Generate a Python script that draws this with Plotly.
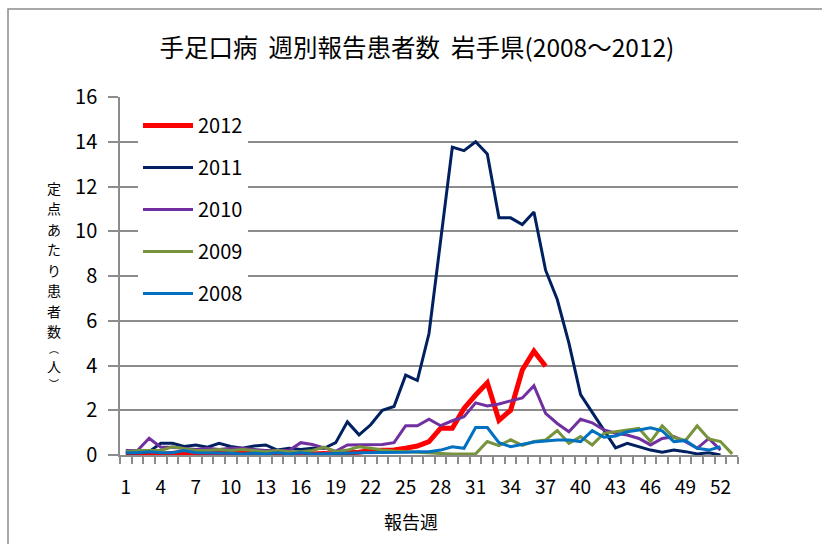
import plotly.graph_objects as go

weeks = list(range(1, 54))
tick_weeks = list(range(1, 53, 3))

y2012 = [0.02, 0.0, 0.0, 0.02, 0.05, 0.12, 0.05, 0.05, 0.08, 0.12, 0.1, 0.05, 0.05, 0.05, 0.07,
         0.05, 0.05, 0.07, 0.05, 0.1, 0.12, 0.2, 0.22, 0.22, 0.3, 0.4, 0.6, 1.2, 1.2, 2.08, 2.68,
         3.23, 1.55, 2.0, 3.8, 4.64, 3.97]
y2011 = [0.1, 0.1, 0.15, 0.52, 0.52, 0.38, 0.45, 0.35, 0.52, 0.38, 0.3, 0.4, 0.45, 0.22, 0.3,
         0.25, 0.3, 0.3, 0.55, 1.48, 0.9, 1.35, 2.0, 2.17, 3.57, 3.33, 5.43, 9.6, 13.76, 13.6,
         14.0, 13.45, 10.6, 10.6, 10.3, 10.86, 8.26, 6.95, 5.0, 2.7, 1.9, 1.1, 0.32, 0.52, 0.37,
         0.22, 0.12, 0.22, 0.15, 0.05, 0.1, 0.0]
y2010 = [0.2, 0.2, 0.75, 0.35, 0.35, 0.3, 0.25, 0.3, 0.25, 0.3, 0.3, 0.25, 0.2, 0.2, 0.2,
         0.55, 0.47, 0.32, 0.17, 0.45, 0.45, 0.45, 0.47, 0.55, 1.31, 1.31, 1.6, 1.31, 1.53, 1.71,
         2.33, 2.19, 2.28, 2.42, 2.55, 3.1, 1.86, 1.41, 1.04, 1.6, 1.44, 1.12, 0.97, 0.89, 0.74,
         0.45, 0.74, 0.82, 0.6, 0.3, 0.74, 0.22]
y2009 = [0.15, 0.2, 0.2, 0.2, 0.37, 0.3, 0.2, 0.2, 0.25, 0.2, 0.25, 0.2, 0.15, 0.2, 0.15,
         0.15, 0.2, 0.35, 0.15, 0.22, 0.37, 0.3, 0.22, 0.18, 0.15, 0.1, 0.08, 0.07, 0.05, 0.05,
         0.05, 0.6, 0.42, 0.68, 0.43, 0.6, 0.67, 1.09, 0.52, 0.82, 0.45, 0.97, 1.04, 1.12, 1.19,
         0.6, 1.3, 0.78, 0.65, 1.3, 0.72, 0.6, 0.05]
y2008 = [0.1, 0.1, 0.15, 0.1, 0.1, 0.2, 0.1, 0.1, 0.1, 0.08, 0.05, 0.08, 0.05, 0.1, 0.05,
         0.1, 0.05, 0.05, 0.05, 0.08, 0.1, 0.1, 0.1, 0.1, 0.12, 0.15, 0.15, 0.22, 0.37, 0.3,
         1.23, 1.23, 0.55, 0.37, 0.48, 0.58, 0.63, 0.67, 0.67, 0.6, 1.09, 0.79, 0.85, 1.04, 1.12,
         1.22, 1.08, 0.6, 0.65, 0.3, 0.22, 0.37]

series = [
    ("2012", y2012, "#FF0000", 5),
    ("2011", y2011, "#002060", 3),
    ("2010", y2010, "#7030A0", 3),
    ("2009", y2009, "#77933C", 3),
    ("2008", y2008, "#0070C0", 3),
]

title_text = "手足口病\u00a0\u00a0週別報告患者数\u00a0\u00a0岩手県(2008～2012)"
ylabel_chars = ["定", "点", "あ", "た", "り", "患", "者", "数", "︵", "人", "︶"]
xlabel = "報告週"

FONT = "Noto Sans CJK JP"
W, H = 822, 544
L, R, T, B = 120, 84, 97, 89
PW, PH = W - L - R, H - T - B

fig = go.Figure()
for name, vals, color, width in series:
    fig.add_trace(go.Scatter(
        x=weeks[:len(vals)], y=vals, name=name, mode="lines",
        line=dict(color=color, width=width),
        legendgroup=name,
    ))

def px_x(p):
    return (p - L) / PW

def px_y(p):
    return (H - B - p) / PH

# vertical (stacked) y-axis title: one character per annotation
annotations = []
ypos = 188.0
prev_half = None
for ch in ylabel_chars:
    size = 10 if ch in ("︵", "︶") else 14
    half = size * 1.46 / 2
    if prev_half is not None:
        ypos += prev_half + half
    annotations.append(dict(
        text=ch, x=px_x(54), y=px_y(ypos), xref="paper", yref="paper",
        showarrow=False, xanchor="center", yanchor="middle",
        font=dict(family=FONT, size=size, color="#000000"),
    ))
    prev_half = half

annotations.append(dict(
    text=xlabel, x=px_x(411), y=px_y(521), xref="paper", yref="paper",
    showarrow=False, xanchor="center", yanchor="middle",
    font=dict(family=FONT, size=18, color="#000000"),
))

fig.update_layout(
    width=W, height=H,
    margin=dict(l=L, r=R, t=T, b=B),
    paper_bgcolor="white", plot_bgcolor="white",
    font=dict(family=FONT, size=20, color="#000000"),
    title=dict(text=title_text, x=px_x(417), xref="paper", xanchor="center",
               y=1 - 48 / H, yanchor="middle", yref="container",
               font=dict(family=FONT, size=24.5, color="#000000")),
    showlegend=True,
    legend=dict(x=px_x(138), y=px_y(106), xanchor="left", yanchor="top",
                bgcolor="white", font=dict(family=FONT, size=20, color="#000000"),
                tracegroupgap=13, traceorder="grouped", itemwidth=50),
    annotations=annotations,
    shapes=[dict(type="rect", xref="paper", yref="paper",
                 x0=px_x(8), x1=px_x(840), y0=px_y(570), y1=px_y(9),
                 line=dict(color="#8C8C8C", width=1.5), layer="below")],
)

fig.update_xaxes(
    range=[0.5, 53.5], tickmode="array", tickvals=tick_weeks,
    ticktext=[str(w) for w in tick_weeks], ticks="", showgrid=False,
    showline=True, linecolor="#8C8C8C", linewidth=1.5,
    ticklabelstandoff=14, tickfont=dict(family=FONT, size=19),
    minor=dict(tickvals=[w - 0.5 for w in weeks] + [53.5], ticks="outside",
               ticklen=7, tickcolor="#8C8C8C", tickwidth=1.5, showgrid=False),
    zeroline=False,
)
fig.update_yaxes(
    range=[0, 16], dtick=2, tick0=0, showgrid=True, gridcolor="#8C8C8C", gridwidth=1.5,
    showline=True, linecolor="#8C8C8C", linewidth=1.5,
    ticks="outside", ticklen=10, tickcolor="#8C8C8C", tickwidth=1.5,
    ticklabelstandoff=7, tickfont=dict(family=FONT, size=20), zeroline=False,
)

fig.write_html("out.html", config={"displayModeBar": False})

with open("out.html", "r", encoding="utf-8") as f:
    html = f.read()
html = html.replace("<body>", '<body style="margin:0;padding:0;overflow:hidden">', 1)
with open("out.html", "w", encoding="utf-8") as f:
    f.write(html)
